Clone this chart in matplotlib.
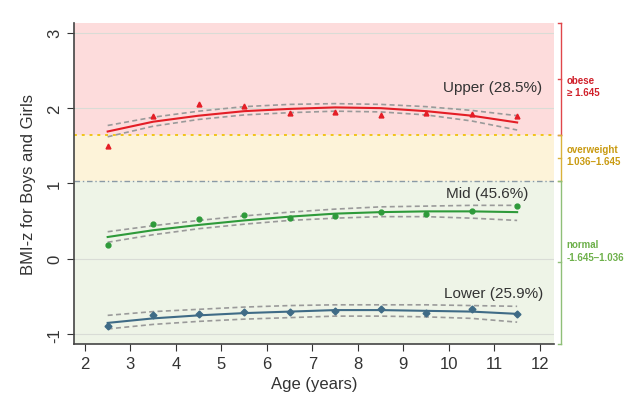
import matplotlib
matplotlib.use("Agg")
import matplotlib.pyplot as plt
import numpy as np

plt.rcParams['font.family'] = ['Liberation Sans', 'DejaVu Sans']

ages = [2.5, 3.5, 4.5, 5.5, 6.5, 7.5, 8.5, 9.5, 10.5, 11.5]

upper_obs = [1.50, 1.90, 2.06, 2.03, 1.93, 1.95, 1.91, 1.94, 1.92, 1.90]
upper_fit = [1.69, 1.82, 1.90, 1.96, 1.99, 2.01, 2.00, 1.96, 1.90, 1.81]
upper_hi = [1.77, 1.88, 1.96, 2.02, 2.05, 2.06, 2.05, 2.02, 1.97, 1.90]
upper_lo = [1.62, 1.76, 1.85, 1.91, 1.94, 1.96, 1.95, 1.91, 1.83, 1.71]

mid_obs = [0.18, 0.46, 0.53, 0.58, 0.54, 0.57, 0.62, 0.60, 0.64, 0.70]
mid_fit = [0.29, 0.38, 0.45, 0.51, 0.56, 0.60, 0.62, 0.63, 0.63, 0.62]
mid_hi = [0.36, 0.44, 0.51, 0.57, 0.62, 0.66, 0.69, 0.70, 0.71, 0.71]
mid_lo = [0.22, 0.32, 0.40, 0.46, 0.51, 0.54, 0.56, 0.56, 0.54, 0.51]

lower_obs = [-0.89, -0.74, -0.73, -0.70, -0.70, -0.69, -0.66, -0.72, -0.66, -0.73]
lower_fit = [-0.85, -0.79, -0.75, -0.72, -0.70, -0.68, -0.68, -0.69, -0.70, -0.73]
lower_hi = [-0.75, -0.70, -0.67, -0.64, -0.62, -0.61, -0.61, -0.61, -0.62, -0.63]
lower_lo = [-0.93, -0.87, -0.83, -0.80, -0.78, -0.76, -0.76, -0.77, -0.79, -0.84]

group_labels = ["Upper (28.5%)", "Mid (45.6%)", "Lower (25.9%)"]
cut_over = 1.036
cut_obese = 1.645
y_min, y_max = -1.13, 3.13

fig = plt.figure(figsize=(6.24, 4.02), dpi=100)
ax = fig.add_axes([0.1186, 0.1418, 0.7692, 0.7985])
ax.set_xlim(1.76, 12.31)
ax.set_ylim(y_min, y_max)

# bands
ax.axhspan(cut_obese, y_max, color='#fddcdc', zorder=0, lw=0)
ax.axhspan(cut_over, cut_obese, color='#fdf3d9', zorder=0, lw=0)
ax.axhspan(y_min, cut_over, color='#eef4e7', zorder=0, lw=0)
for yv in [-1, 0, 2, 3]:
    ax.axhline(yv, color='#d9dcd6', lw=0.8, zorder=0.5)
ax.axhline(cut_obese, color='#f0c419', lw=1.4, ls=(0, (1.5, 2.5)), zorder=1)
ax.axhline(cut_over, color='#8a9aa6', lw=1.0, ls=(0, (4, 2, 1, 2)), zorder=1)

series = [
    (upper_obs, upper_fit, upper_hi, upper_lo, '#e41e26', '^'),
    (mid_obs, mid_fit, mid_hi, mid_lo, '#2e9a3a', 'o'),
    (lower_obs, lower_fit, lower_hi, lower_lo, '#3f6b86', 'D'),
]
for obs, fit, hi, lo, col, mk in series:
    ax.plot(ages, hi, color='#9a9a9a', lw=1.2, ls=(0, (3, 2)), zorder=2)
    ax.plot(ages, lo, color='#9a9a9a', lw=1.2, ls=(0, (3, 2)), zorder=2)
    ax.plot(ages, fit, color=col, lw=1.5, zorder=3)
    ax.plot(ages, obs, ls='none', marker=mk, color=col, ms=3.5, zorder=4)

ax.text(12.05, 2.28, group_labels[0], ha='right', va='center', fontsize=11, color='#333333')
ax.text(11.75, 0.87, group_labels[1], ha='right', va='center', fontsize=11, color='#333333')
ax.text(12.07, -0.45, group_labels[2], ha='right', va='center', fontsize=11, color='#333333')

ax.set_xticks(range(2, 13))
ax.set_yticks([-1, 0, 1, 2, 3])
ax.set_yticklabels(['-1', '0', '1', '2', '3'], rotation=90, va='center')
ax.tick_params(axis='both', labelsize=12, color='#333333', labelcolor='#333333', length=5)
ax.set_xlabel('Age (years)', fontsize=12, color='#333333')
ax.set_ylabel('BMI-z for Boys and Girls', fontsize=12, color='#333333', labelpad=8)
for s in ['top', 'right']:
    ax.spines[s].set_visible(False)
for s in ['left', 'bottom']:
    ax.spines[s].set_color('#444444')
    ax.spines[s].set_linewidth(1.2)

# right-side brackets
trans = ax.get_yaxis_transform()
bx = 1.0146
brackets = [
    (cut_obese, y_max, '#e0464a', 'obese\n≥ 1.645', '#d0202a', 2.29),
    (cut_over, cut_obese, '#d9b23a', 'overweight\n1.036–1.645', '#c99a10', 1.38),
    (y_min, cut_over, '#8fbf78', 'normal\n-1.645–1.036', '#6db04a', 0.11),
]
for lo, hi, lc, txt, tc, ty in brackets:
    ax.plot([bx, bx], [lo, hi], transform=trans, color=lc, lw=1.0, clip_on=False)
    for yy in (lo, hi):
        ax.plot([bx - 0.006, bx], [yy, yy], transform=trans, color=lc, lw=1.0, clip_on=False)
    mid = (lo + hi) / 2
    ax.plot([bx - 0.006, bx], [mid, mid], transform=trans, color=lc, lw=1.0, clip_on=False)
    ax.text(bx + 0.012, ty, txt, transform=trans, ha='left', va='center',
            fontsize=7, fontweight='bold', color=tc, linespacing=1.3)

fig.savefig('out.png', dpi=100, facecolor='white')
